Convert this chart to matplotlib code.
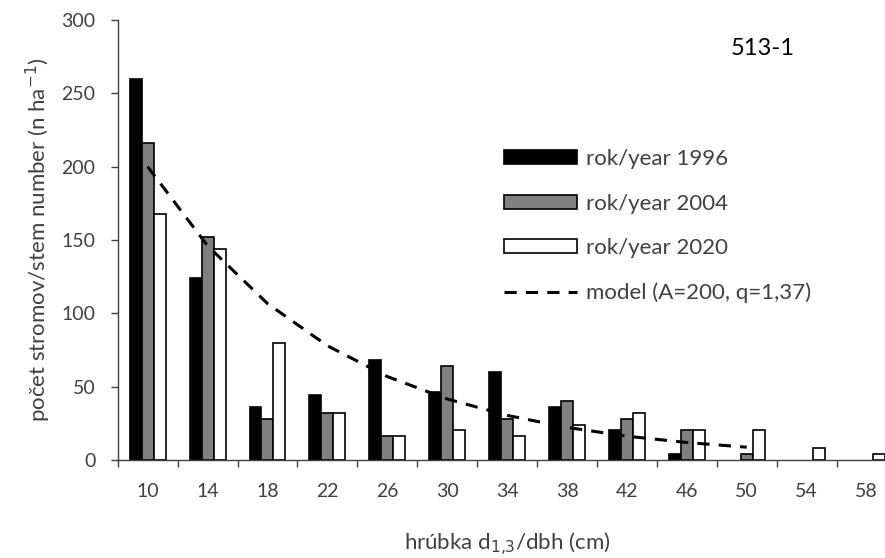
import numpy as np
import matplotlib.pyplot as plt

plt.rcParams['font.family'] = ['Lato', 'DejaVu Sans']

# hrubkove stupne (cm)
dbh = [10, 14, 18, 22, 26, 30, 34, 38, 42, 46, 50, 54, 58]
n1996 = [260, 124, 36, 44, 68, 46, 60, 36, 20, 4, 0, 0, 0]
n2004 = [216, 152, 28, 32, 16, 64, 28, 40, 28, 20, 4, 0, 0]
n2020 = [168, 144, 80, 32, 16, 20, 16, 24, 32, 20, 20, 8, 4]
# model (A=200, q=1,37) odcitany z grafu
model_dbh = [10, 14, 18, 22, 26, 30, 34, 38, 42, 46, 50]
model_n = [200, 146, 106.6, 77.8, 56.8, 41.5, 30.3, 22.1, 16.1, 11.8, 8.6]

txt = '#404040'
x = np.arange(len(dbh))
w = 0.2

fig = plt.figure(figsize=(8.85, 5.58), dpi=100)
ax = fig.add_axes([0.133, 0.176, 0.88, 0.788])

bars = []
bars.append(ax.bar(x - w, n1996, w, color='black', edgecolor='black', linewidth=1.2, label='rok/year 1996'))
bars.append(ax.bar(x, n2004, w, color='#808080', edgecolor='black', linewidth=1.2, label='rok/year 2004'))
bars.append(ax.bar(x + w, n2020, w, color='white', edgecolor='black', linewidth=1.2, label='rok/year 2020'))
for bc in bars:
    for p in bc.patches:
        if p.get_height() == 0:
            p.set_visible(False)
mx = [dbh.index(d) for d in model_dbh]
ax.plot(mx, model_n, '--', color='black', lw=2.2, dashes=(4, 3), label='model (A=200, q=1,37)')

ax.set_xlim(-0.5, len(dbh) - 0.5)
ax.set_ylim(0, 300)
ax.set_yticks(range(0, 301, 50))
ax.set_xticks(x)
ax.set_xticklabels([str(d) for d in dbh])
ax.set_xticks(np.arange(-0.5, len(dbh), 1), minor=True)
ax.tick_params(axis='x', which='major', length=0, pad=17)
ax.tick_params(axis='x', which='minor', length=5, width=1, color='#404040')
ax.tick_params(axis='y', length=5, width=1, color='#404040', pad=11)
ax.tick_params(labelsize=14, labelcolor=txt)
for s in ['top', 'right']:
    ax.spines[s].set_visible(False)
for s in ['left', 'bottom']:
    ax.spines[s].set_color('#404040')
    ax.spines[s].set_linewidth(1)

ax.set_xlabel('hrúbka d$_{1{,}3}$/dbh (cm)', fontsize=16, color=txt, labelpad=22)
ax.set_ylabel('počet stromov/stem number (n ha$^{-1}$)', fontsize=16, color=txt, labelpad=6)
ax.text(0.787, 0.92, '513-1', transform=ax.transAxes, fontsize=17, color='black')

h, l = ax.get_legend_handles_labels()
order = [1, 2, 3, 0]
leg = ax.legend([h[i] for i in order], [l[i] for i in order],
                loc='upper left', bbox_to_anchor=(0.47, 0.752), frameon=False,
                fontsize=16, handlelength=3.3, handleheight=0.6,
                labelspacing=1.1, handletextpad=0.4)
for t in leg.get_texts():
    t.set_color(txt)

plt.savefig('out.png', dpi=100)
